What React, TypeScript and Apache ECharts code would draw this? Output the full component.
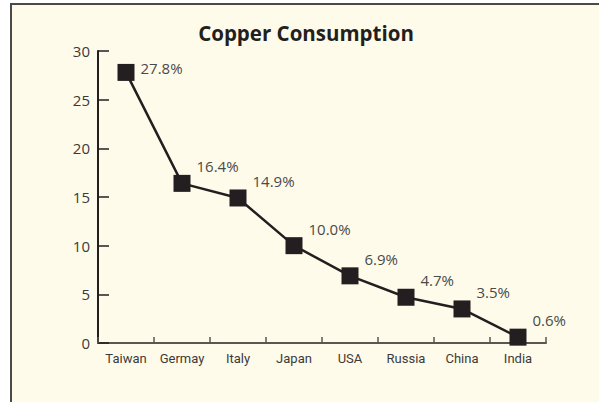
import React, { useEffect, useRef } from "react";
import * as echarts from "echarts";

const categories = ["Taiwan", "Germay", "Italy", "Japan", "USA", "Russia", "China", "India"];
const values = [27.8, 16.4, 14.9, 10.0, 6.9, 4.7, 3.5, 0.6];
const labelTexts = ["27.8%", "16.4%", "14.9%", "10.0%", "6.9%", "4.7%", "3.5%", "0.6%"];

export default function App() {
  const ref = useRef<HTMLDivElement>(null);
  useEffect(() => {
    if (!ref.current) return;
    const chart = echarts.init(ref.current, null, { renderer: "svg" });
    const font = "'Open Sans', 'Noto Sans', sans-serif";
    const narrow = "'Liberation Sans Narrow', 'Roboto', sans-serif";
    chart.setOption({
      animation: false,
      backgroundColor: "#ffffff",
      graphic: [
        {
          type: "rect",
          z: -10,
          shape: { x: 11, y: 4, width: 700, height: 500 },
          style: { fill: "#fffbea", stroke: "#4a4a4a", lineWidth: 2 },
          silent: true,
        },
      ],
      title: {
        text: "Copper Consumption",
        left: 301,
        textAlign: "center",
        top: 17,
        textStyle: { fontFamily: font, fontWeight: "bold", fontSize: 20.5, color: "#231f20" },
      },
      grid: { left: 98, right: 53, top: 51, bottom: 59, containLabel: false },
      xAxis: {
        type: "category",
        data: categories,
        boundaryGap: true,
        axisLine: { show: true, lineStyle: { color: "#5a5652", width: 2 } },
        axisTick: { show: true, inside: true, length: 6, interval: 0, alignWithLabel: false, lineStyle: { color: "#5a5652", width: 1.5 } },
        axisLabel: { interval: 0, fontFamily: narrow, fontSize: 13, color: "#3a3a3a", margin: 9 },
        splitLine: { show: false },
      },
      yAxis: {
        type: "value",
        min: 0,
        max: 30,
        interval: 5,
        axisLine: { show: true, lineStyle: { color: "#231f20", width: 2 } },
        axisTick: { show: true, inside: true, length: 11, lineStyle: { color: "#231f20", width: 1.5 } },
        axisLabel: { fontFamily: font, fontSize: 15, color: "#3a3a3a", margin: 8 },
        splitLine: { show: false },
      },
      series: [
        {
          type: "line",
          data: values.map((v, i) => ({
            value: v,
            label: {
              formatter: labelTexts[i],
              offset: i === 0 ? [1, -4] : [1, -17],
            },
          })),
          symbol: "rect",
          symbolSize: 17,
          itemStyle: { color: "#231f20" },
          lineStyle: { color: "#231f20", width: 2.5 },
          label: {
            show: true,
            position: "right",
            distance: 5,
            fontFamily: font,
            fontSize: 15,
            color: "#4a4a4a",
          },
        },
      ],
    });
    return () => chart.dispose();
  }, []);
  return (
    <div
      ref={ref}
      style={{ position: "fixed", left: 0, top: 0, width: 599, height: 402 }}
    />
  );
}
